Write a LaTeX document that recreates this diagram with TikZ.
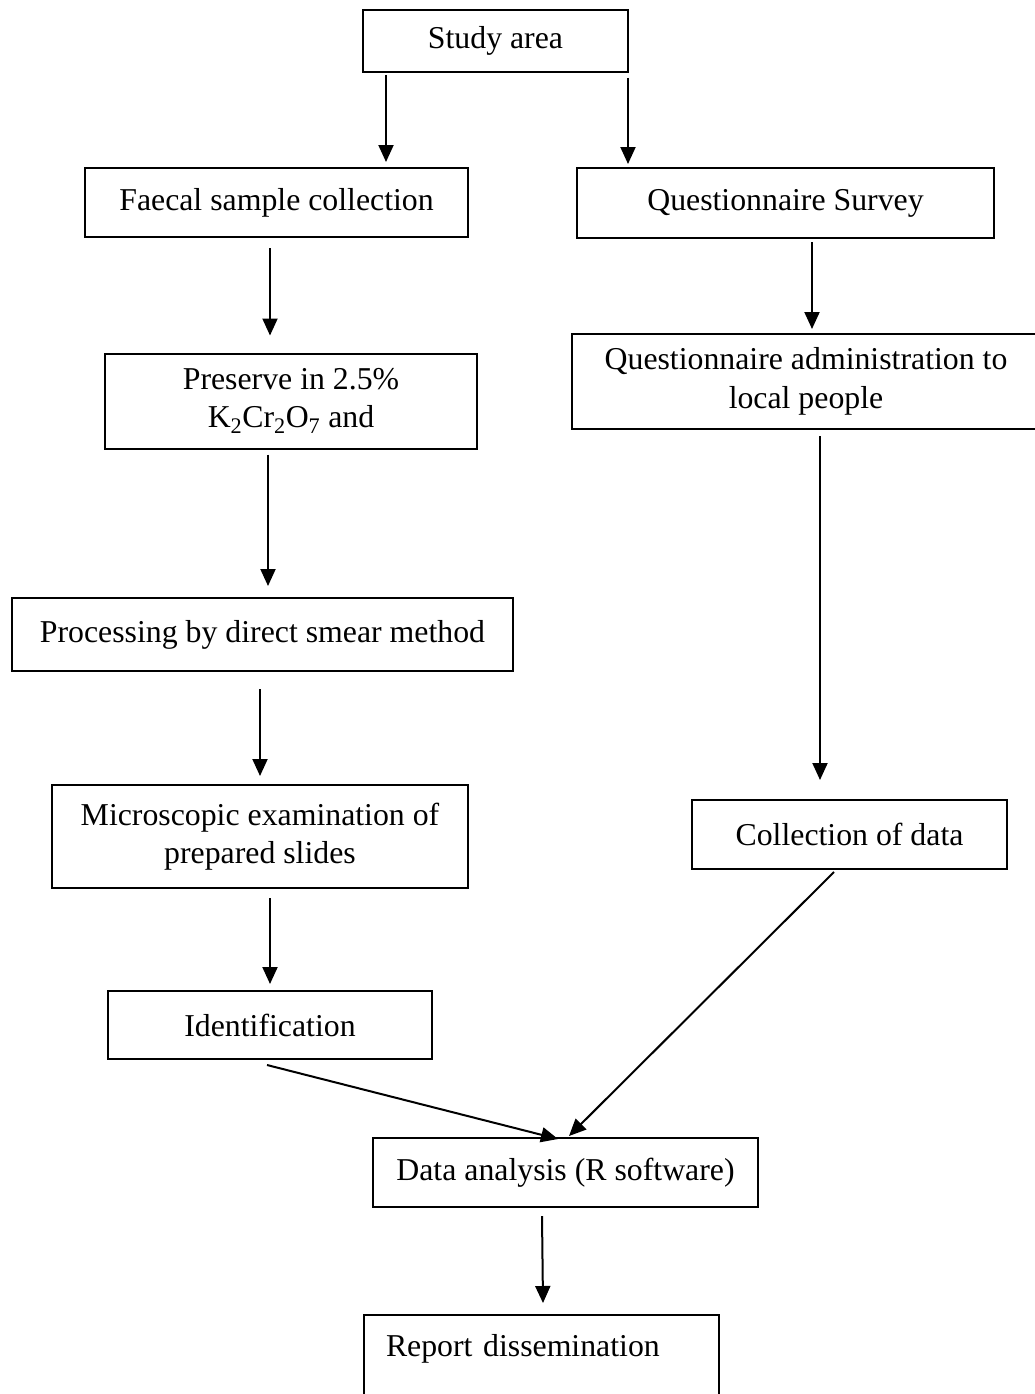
\documentclass[tikz,border=0pt]{standalone}
\usepackage{fontspec}
\setmainfont{Liberation Serif}
\usepackage{tikz}
\usetikzlibrary{arrows.meta,calc}

\begin{document}
\begin{tikzpicture}[x=1pt,y=-1pt,
  box/.style={draw, line width=2pt, inner sep=0pt, align=center, font=\fontsize{31.8}{38.5}\selectfont},
  arr/.style={-{Triangle[length=17pt,width=15pt]}, line width=2pt}]
\useasboundingbox (0,0) rectangle (1035,1394);

% Top
\node[box, minimum width=265pt, minimum height=62pt] (study) at (495.5,41) {Study area};

% Left branch
\node[box, minimum width=383pt, minimum height=69pt] (faecal) at (276.5,202.5) {Faecal sample collection};
\node[box, minimum width=372pt, minimum height=95pt] (preserve) at (291,401) {Preserve in 2.5\%\\K\textsubscript{2}Cr\textsubscript{2}O\textsubscript{7} and};
\node[box, minimum width=501pt, minimum height=73pt] (smear) at (262.5,634.5) {Processing by direct smear method};
\node[box, minimum width=416pt, minimum height=103pt] (micro) at (260,836.5) {Microscopic examination of\\prepared slides};
\node[box, minimum width=324pt, minimum height=68pt] (ident) at (270,1025) {Identification};

% Right branch
\node[box, minimum width=417pt, minimum height=70pt] (survey) at (785.5,203) {Questionnaire Survey};
\node[box, minimum width=468pt, minimum height=95pt] (admin) at (806,381.5) {Questionnaire administration to\\local people};
\node[box, minimum width=315pt, minimum height=69pt] (collect) at (849.5,834.5) {Collection of data};

% Bottom
\node[box, minimum width=385pt, minimum height=69pt] (analysis) at (565.5,1172.5) {Data analysis (R software)};
\node[box, anchor=north west, align=left, text width=311pt, inner xsep=22pt, inner ysep=19pt,
  text height=22pt, text depth=55pt] (report) at (363,1314) {Report dissemination};

% Arrows
\draw[arr] ($(study.south)+(-109.5,2)$) -- ($(faecal.north)+(109.5,-5)$);
\draw[arr] ($(study.south)+(132.5,5)$) -- ($(survey.north)+(-157.5,-3)$);
\draw[arr] ($(faecal.south)+(-6.5,10)$) -- ($(preserve.north)+(-21,-17)$);
\draw[arr] ($(preserve.south)+(-23,5)$) -- ($(smear.north)+(5.5,-11)$);
\draw[arr] ($(smear.south)+(-2.5,17)$) -- ($(micro.north)+(0,-8)$);
\draw[arr] ($(micro.south)+(10,9)$) -- ($(ident.north)+(0,-6)$);
\draw[arr] ($(survey.south)+(26.5,3)$) -- ($(admin.north)+(6,-4)$);
\draw[arr] ($(admin.south)+(14,6)$) -- ($(collect.north)+(-29.5,-19)$);
\draw[arr] ($(ident.south)+(-3,5)$) -- ($(analysis.north)+(-7.5,2)$);
\draw[arr] ($(collect.south)+(-15.5,2)$) -- ($(analysis.north)+(3.5,-1)$);
\draw[arr] ($(analysis.south)+(-23.5,8)$) -- ($(report.north)+(1.5,-11)$);
\end{tikzpicture}
\end{document}
